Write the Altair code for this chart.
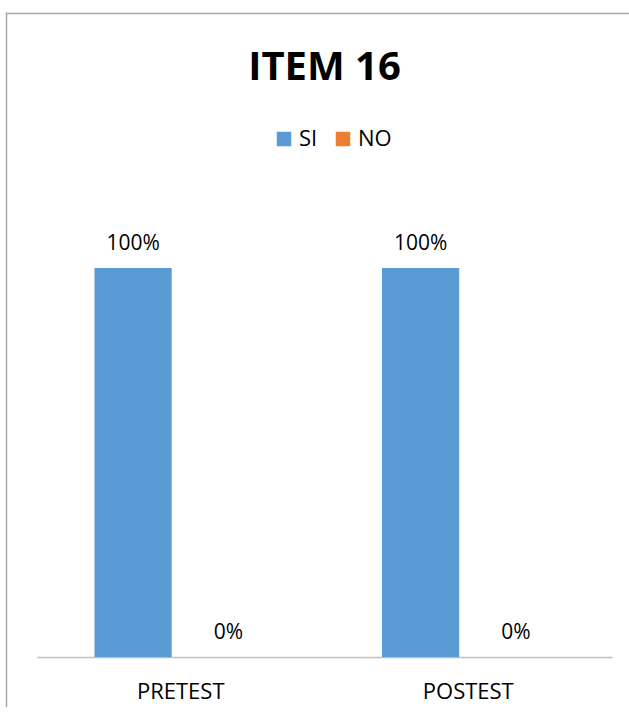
import altair as alt
import pandas as pd

categories = ["PRETEST", "POSTEST"]
series = ["SI", "NO"]
si_values = [1.00, 1.00]
no_values = [0.00, 0.00]
colors = ["#5B9BD5", "#ED7D31"]

rows = []
for i, c in enumerate(categories):
    rows.append({"cat": c, "serie": "SI", "val": si_values[i]})
    rows.append({"cat": c, "serie": "NO", "val": no_values[i]})
df = pd.DataFrame(rows)

FONT = "Open Sans"

x_enc = alt.X("cat:N", sort=categories, title=None,
              scale=alt.Scale(paddingInner=0, paddingOuter=0),
              axis=alt.Axis(labelAngle=0, ticks=False, tickSize=0, labelPadding=41,
                            labelBaseline="alphabetic", labelFont=FONT, labelFontSize=22,
                            labelColor="#000000", domainColor="#BFBFBF", domainWidth=1.5,
                            grid=False))
xo_enc = alt.XOffset("serie:N", sort=series,
                     scale=alt.Scale(paddingInner=0.19, paddingOuter=0.603))
y_enc = alt.Y("val:Q", scale=alt.Scale(domain=[0, 1]), axis=None)

base = alt.Chart(df)

bars = base.mark_bar().encode(
    x=x_enc,
    xOffset=xo_enc,
    y=y_enc,
    color=alt.Color("serie:N", sort=series,
                    scale=alt.Scale(domain=series, range=colors),
                    legend=alt.Legend(title=None, orient="none", direction="horizontal",
                                      legendX=236, legendY=-140,
                                      symbolType="square", symbolSize=210,
                                      symbolStrokeWidth=0, labelFont=FONT,
                                      labelFontSize=22, labelColor="#000000",
                                      labelOffset=4, columnPadding=14, padding=0)),
)

labels = base.mark_text(font=FONT, fontSize=21, baseline="alphabetic", dy=-18,
                        color="#000000").encode(
    x=x_enc,
    xOffset=xo_enc,
    y=y_enc,
    text=alt.Text("val:Q", format=".0%"),
)

frame_df = pd.DataFrame({"k": [0]})
border_top = alt.Chart(frame_df).mark_rule(
    stroke="#A6A6A6", strokeWidth=1.5, clip=False
).encode(x=alt.value(-31.25), x2=alt.value(592), y=alt.value(-254.5))
border_left = alt.Chart(frame_df).mark_rule(
    stroke="#A6A6A6", strokeWidth=1.5, clip=False
).encode(x=alt.value(-30.5), y=alt.value(-255.25), y2=alt.value(440))

chart = alt.layer(border_top, border_left, bars, labels).properties(
    width=575, height=389,
    title=alt.TitleParams("ITEM 16", font=FONT, fontSize=40, fontWeight="bold",
                          color="#000000", anchor="middle", frame="group",
                          offset=-76),
    padding={"left": 37, "top": 268, "right": 17, "bottom": 50},
    autosize=alt.AutoSizeParams(type="none"),
    background="#FFFFFF",
).configure_view(strokeWidth=0, stroke="transparent")

chart.save("out.html", embed_options={"renderer": "svg", "actions": False})
